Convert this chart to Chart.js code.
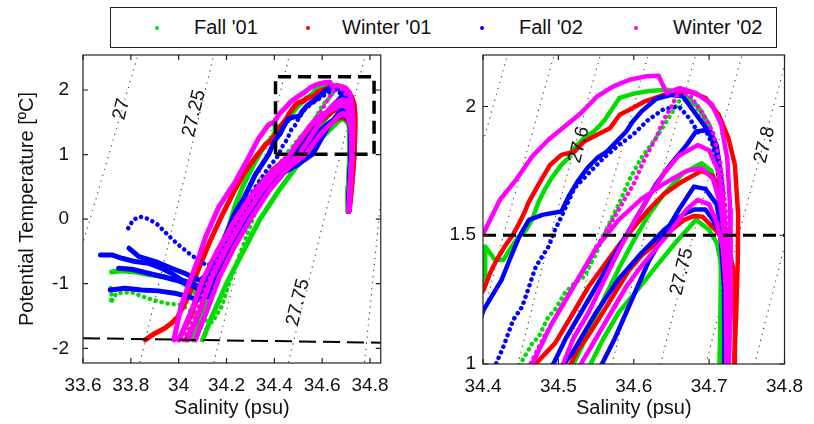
<!DOCTYPE html>
<html><head><meta charset="utf-8">
<script src="https://cdn.jsdelivr.net/npm/chart.js@4.4.1/dist/chart.umd.min.js"></script>
<style>
html,body{margin:0;padding:0;background:#fff;}
body{width:814px;height:424px;position:relative;overflow:hidden;font-family:"Liberation Sans",Arial,sans-serif;}
#cL{position:absolute;left:0;top:0;}
#cR{position:absolute;left:400px;top:0;}
#legend{position:absolute;left:110px;top:7px;width:665px;height:39px;border:1.5px solid #222;background:#fff;z-index:5;}
.it{position:absolute;top:0;height:39px;line-height:39px;font-size:20px;color:#111;white-space:nowrap;}
.dot{position:absolute;top:18px;width:4px;height:4px;border-radius:2px;}
</style></head><body>
<div id="legend"></div>
<canvas id="cL" width="400" height="424"></canvas>
<canvas id="cR" width="414" height="424"></canvas>
<script>
// ---------- series names ----------
const seasons = ["Fall '01", "Winter '01", "Fall '02", "Winter '02"];

// ---------- Fall '01 profiles [salinity, potential temperature] ----------
const fall01_a = [[33.72,-0.82],[33.76,-0.80],[33.82,-0.82],[33.88,-0.86],[33.94,-0.89],[34.0,-0.95],[34.04,-1.05],[34.07,-1.15],[34.1,-1.1],[34.13,-0.9],[34.17,-0.55],[34.2,-0.25],[34.237,0.22],[34.265,0.478],[34.292,0.684],[34.32,0.89],[34.36,1.15],[34.389,1.25],[34.403,1.35],[34.403,1.456],[34.416,1.404],[34.427,1.404],[34.435,1.443],[34.444,1.482],[34.457,1.521],[34.465,1.56],[34.474,1.631],[34.483,1.683],[34.491,1.722],[34.504,1.773],[34.513,1.799],[34.521,1.838],[34.534,1.877],[34.547,1.903],[34.56,1.942],[34.569,1.981],[34.581,2.033],[34.60,2.05],[34.62,2.06],[34.645,2.065],[34.665,2.05],[34.685,2.0],[34.70,1.93],[34.71,1.82],[34.715,1.68],[34.716,1.45],[34.715,1.2],[34.714,1.0],[34.712,0.5],[34.708,0.12]];
const fall01_b = [[33.715,-1.07],[33.72,-1.2],[33.715,-1.3],[33.74,-1.15],[33.80,-1.13],[33.873,-1.23],[33.942,-1.30],[34.011,-1.33],[34.06,-1.45],[34.1,-1.55],[34.14,-1.6],[34.18,-1.35],[34.22,-0.9],[34.27,-0.4],[34.32,0.1],[34.37,0.5],[34.42,0.85],[34.4653,1.08],[34.474,1.106],[34.4869,1.184],[34.4955,1.21],[34.5084,1.275],[34.5213,1.314],[34.5342,1.339],[34.55,1.43],[34.565,1.53],[34.58,1.62],[34.595,1.72],[34.61,1.80],[34.63,1.88],[34.645,1.95],[34.66,2.02],[34.675,2.03],[34.69,1.97],[34.70,1.9],[34.71,1.8],[34.715,1.6],[34.716,1.3],[34.714,1.0],[34.71,0.5],[34.708,0.12]];
const fall01_c = [[34.10,-1.87],[34.14,-1.5],[34.2,-1.0],[34.27,-0.5],[34.34,0.0],[34.42,0.45],[34.49,0.8],[34.5427,1.0],[34.56,1.1],[34.58,1.2],[34.605,1.288],[34.63,1.38],[34.655,1.47],[34.6826,1.56],[34.6997,1.521],[34.7105,1.469],[34.7148,1.404],[34.7169,1.339],[34.7169,1.21],[34.7148,0.996],[34.712,0.5],[34.708,0.12]];
const fall01_d = [[34.06,-1.87],[34.11,-1.4],[34.16,-0.9],[34.22,-0.45],[34.29,0.0],[34.37,0.45],[34.45,0.8],[34.52,1.0],[34.54,1.12],[34.56,1.25],[34.58,1.37],[34.60,1.48],[34.62,1.58],[34.64,1.66],[34.665,1.74],[34.69,1.78],[34.703,1.75],[34.712,1.66],[34.716,1.5],[34.716,1.2],[34.714,1.0],[34.71,0.5],[34.708,0.12]];

// ---------- Winter '01 profiles ----------
const winter01_a = [[33.86,-1.87],[33.90,-1.77],[33.942,-1.689],[33.97,-1.612],[33.997,-1.51],[34.011,-1.406],[34.04,-1.2],[34.08,-0.8],[34.13,-0.35],[34.18,0.05],[34.23,0.42],[34.28,0.75],[34.33,1.0],[34.362,1.149],[34.38,1.2],[34.4008,1.288],[34.4094,1.353],[34.4181,1.404],[34.4288,1.456],[34.4395,1.501],[34.4481,1.547],[34.4546,1.586],[34.461,1.631],[34.4761,1.709],[34.489,1.773],[34.504,1.812],[34.5213,1.825],[34.5342,1.864],[34.5514,1.890],[34.5685,1.916],[34.5814,1.968],[34.5987,1.994],[34.615,2.02],[34.64,2.045],[34.674,2.058],[34.6955,2.033],[34.7126,1.968],[34.7256,1.877],[34.7342,1.773],[34.7385,1.579],[34.738,1.4],[34.736,1.2],[34.733,1.0],[34.725,0.6],[34.718,0.3],[34.712,0.12]];
const winter01_b = [[34.03,-1.87],[34.07,-1.6],[34.12,-1.1],[34.18,-0.6],[34.25,-0.15],[34.32,0.25],[34.40,0.6],[34.46,0.82],[34.5169,1.003],[34.5256,1.054],[34.5385,1.106],[34.5471,1.145],[34.5556,1.184],[34.5665,1.236],[34.58,1.3],[34.594,1.365],[34.61,1.42],[34.63,1.47],[34.65,1.52],[34.667,1.56],[34.68,1.575],[34.6911,1.572],[34.7084,1.521],[34.7256,1.456],[34.7342,1.339],[34.7342,1.0],[34.726,0.6],[34.718,0.3],[34.712,0.12]];
const winter01_c = [[34.00,-1.87],[34.05,-1.5],[34.10,-1.0],[34.17,-0.5],[34.24,0.0],[34.31,0.4],[34.39,0.75],[34.46,0.97],[34.4955,1.08],[34.52,1.2],[34.54,1.3],[34.56,1.38],[34.58,1.46],[34.60,1.53],[34.62,1.6],[34.64,1.66],[34.665,1.71],[34.69,1.75],[34.705,1.73],[34.715,1.65],[34.722,1.5],[34.725,1.3],[34.726,1.0],[34.72,0.6],[34.714,0.3],[34.712,0.12]];

// ---------- Fall '02 profiles ----------
const fall02_a = [[33.673,-0.554],[33.721,-0.554],[33.763,-0.606],[33.818,-0.657],[33.873,-0.683],[33.928,-0.761],[33.97,-0.838],[34.011,-0.941],[34.052,-0.993],[34.087,-1.045],[34.11,-1.0],[34.13,-0.85],[34.16,-0.6],[34.19,-0.3],[34.2374,0.116],[34.2648,0.271],[34.2925,0.478],[34.32,0.684],[34.3475,0.839],[34.375,0.994],[34.4008,1.21],[34.4245,1.326],[34.4352,1.404],[34.4481,1.495],[34.461,1.56],[34.48,1.58],[34.504,1.592],[34.5148,1.657],[34.5256,1.709],[34.5385,1.761],[34.5514,1.80],[34.5643,1.825],[34.5772,1.864],[34.59,1.903],[34.5987,1.942],[34.61,1.98],[34.63,2.03],[34.65,2.045],[34.665,2.04],[34.68,1.98],[34.69,1.94],[34.70,1.9],[34.71,1.83],[34.717,1.7],[34.72,1.5],[34.721,1.2],[34.72,1.0],[34.716,0.6],[34.712,0.3],[34.71,0.12]];
const fall02_b = [[33.789,-0.141],[33.81,-0.012],[33.837,0.039],[33.865,0.013],[33.906,-0.064],[33.934,-0.167],[33.97,-0.3],[34.0,-0.4],[34.05,-0.55],[34.09,-0.65],[34.12,-0.72],[34.15,-0.65],[34.19,-0.4],[34.23,-0.1],[34.28,0.25],[34.33,0.55],[34.38,0.82],[34.41,0.95],[34.427,1.067],[34.44,1.171],[34.452,1.223],[34.461,1.30],[34.47,1.378],[34.487,1.456],[34.4955,1.521],[34.504,1.572],[34.5213,1.683],[34.54,1.74],[34.56,1.8],[34.58,1.85],[34.5987,1.89],[34.62,1.95],[34.64,1.99],[34.66,2.0],[34.675,1.95],[34.685,1.9],[34.695,1.91],[34.705,1.85],[34.714,1.7],[34.718,1.5],[34.72,1.2],[34.72,1.0]];
const fall02_c = [[33.749,-0.761],[33.804,-0.776],[33.873,-0.838],[33.942,-0.90],[34.011,-0.967],[34.066,-1.045],[34.10,-1.15],[34.13,-1.0],[34.18,-0.6],[34.24,-0.15],[34.31,0.3],[34.38,0.65],[34.44,0.9],[34.4933,1.0],[34.51,1.1],[34.53,1.2],[34.55,1.3],[34.57,1.4],[34.59,1.5],[34.61,1.6],[34.63,1.7],[34.65,1.78],[34.67,1.85],[34.6826,1.903],[34.70,1.91],[34.71,1.85],[34.717,1.7],[34.72,1.5],[34.721,1.2],[34.72,1.0],[34.716,0.6],[34.71,0.12]];
const fall02_d = [[33.714,-1.096],[33.776,-1.070],[33.845,-1.096],[33.914,-1.111],[33.983,-1.147],[34.038,-1.198],[34.08,-1.25],[34.12,-1.2],[34.15,-1.0],[34.22,-0.5],[34.29,0.0],[34.36,0.4],[34.43,0.7],[34.50,0.85],[34.5578,1.0],[34.575,1.1],[34.59,1.2],[34.605,1.3],[34.62,1.4],[34.64,1.5],[34.66,1.6],[34.68,1.689],[34.695,1.68],[34.71,1.62],[34.717,1.5],[34.72,1.3],[34.72,1.0],[34.714,0.5],[34.71,0.12]];
const fall02_e = [[33.792,-0.451],[33.834,-0.58],[33.903,-0.657],[33.97,-0.761],[34.025,-0.838],[34.06,-0.9],[34.09,-0.95],[34.12,-0.85],[34.17,-0.5],[34.23,-0.1],[34.30,0.3],[34.37,0.6],[34.44,0.85],[34.50,0.97],[34.52,1.05],[34.55,1.2],[34.58,1.33],[34.61,1.43],[34.64,1.52],[34.665,1.58],[34.68,1.6],[34.695,1.6],[34.705,1.56],[34.715,1.5],[34.72,1.3],[34.72,1.0],[34.714,0.5],[34.71,0.12]];

// ---------- Winter '02 profiles ----------
const winter02_a = [[33.98,-1.87],[34.01,-1.35],[34.044,-0.99],[34.085,-0.58],[34.113,-0.27],[34.168,0.19],[34.237,0.58],[34.29,0.94],[34.334,1.25],[34.375,1.458],[34.4008,1.508],[34.4223,1.637],[34.4438,1.715],[34.4653,1.806],[34.4868,1.871],[34.5083,1.922],[34.5298,1.974],[34.5514,2.039],[34.5729,2.078],[34.5944,2.104],[34.6159,2.117],[34.6331,2.119],[34.6374,2.091],[34.6438,2.052],[34.648,2.058],[34.661,2.071],[34.6826,2.052],[34.704,2.007],[34.716,1.93],[34.724,1.8],[34.728,1.6],[34.729,1.4],[34.728,1.2],[34.726,1.0],[34.72,0.6],[34.714,0.3],[34.711,0.12]];
const winter02_b = [[34.02,-1.87],[34.07,-1.5],[34.12,-1.0],[34.18,-0.5],[34.25,0.0],[34.33,0.45],[34.41,0.8],[34.463,1.0],[34.48,1.1],[34.5,1.2],[34.52,1.3],[34.54,1.4],[34.56,1.5],[34.58,1.6],[34.6,1.7],[34.615,1.8],[34.63,1.88],[34.64,1.95],[34.65,2.0],[34.66,2.06],[34.675,2.04],[34.69,1.98],[34.705,1.9],[34.715,1.78],[34.722,1.6],[34.725,1.3],[34.725,1.0],[34.72,0.6],[34.713,0.12]];
const winter02_c = [[34.04,-1.87],[34.09,-1.4],[34.14,-0.9],[34.2,-0.45],[34.27,0.0],[34.35,0.45],[34.43,0.8],[34.5062,1.0],[34.52,1.1],[34.54,1.2],[34.56,1.32],[34.58,1.44],[34.60,1.55],[34.62,1.65],[34.64,1.74],[34.66,1.81],[34.685,1.85],[34.70,1.83],[34.712,1.75],[34.72,1.6],[34.724,1.4],[34.725,1.0],[34.72,0.6],[34.712,0.12]];
const winter02_d = [[34.07,-1.87],[34.12,-1.4],[34.17,-0.9],[34.23,-0.45],[34.30,0.0],[34.38,0.45],[34.46,0.8],[34.53,1.0],[34.55,1.1],[34.57,1.2],[34.59,1.3],[34.61,1.38],[34.63,1.45],[34.65,1.52],[34.67,1.6],[34.6847,1.637],[34.70,1.62],[34.71,1.55],[34.718,1.45],[34.722,1.3],[34.723,1.0],[34.716,0.5],[34.71,0.12]];
const winter02_e = [[34.0,-1.87],[34.05,-1.45],[34.10,-0.95],[34.16,-0.5],[34.23,-0.05],[34.30,0.35],[34.38,0.7],[34.4653,1.0],[34.49,1.15],[34.52,1.3],[34.55,1.45],[34.58,1.56],[34.61,1.64],[34.64,1.7],[34.67,1.75],[34.69,1.76],[34.705,1.72],[34.715,1.62],[34.722,1.45],[34.724,1.2],[34.724,1.0],[34.718,0.6],[34.712,0.12]];

// ---------- isopycnals (sigma-theta) ----------
const isoLeft_27   = [[33.59,-0.5],[33.834,2.6]];
const isoLeft_2725 = [[33.833,-2.3],[34.150,2.6]];
const isoLeft_275  = [[34.142,-2.3],[34.467,2.6]];
const isoLeft_2775 = [[34.453,-2.3],[34.784,2.6]];
const isoLeft_28   = [[34.775,-2.3],[34.838,0.03],[34.87,1.2]];
const isoRight_275  = [[34.3217,1.0],[34.3648,1.5],[34.4326,2.2]];
const isoRight_2755 = [[34.3839,1.0],[34.427,1.5],[34.4943,2.2]];
const isoRight_276  = [[34.4463,1.0],[34.4894,1.5],[34.5557,2.2]];
const isoRight_2765 = [[34.5088,1.0],[34.5519,1.5],[34.619,2.2]];
const isoRight_277  = [[34.5711,1.0],[34.6142,1.5],[34.6822,2.2]];
const isoRight_2775 = [[34.6356,1.0],[34.6787,1.5],[34.7436,2.2]];
const isoRight_278  = [[34.6959,1.0],[34.739,1.5],[34.804,2.2]];
const isoRight_2785 = [[34.7604,1.0],[34.8035,1.5],[34.8675,2.2]];
const isoLabelsLeft  = ["27", "27.25", "27.75"];
const isoLabelAtLeft = [[33.7614,1.701],[34.0648,1.639],[34.4994,-1.288]];
const isoLabelsRight  = ["27.6", "27.75", "27.8"];
const isoLabelAtRight = [[34.5277,1.851],[34.664,1.359],[34.7737,1.851]];

// ---------- reference lines ----------
const freezingLine = [[33.6,-1.845],[34.845,-1.913]];
const zoomBox = [[34.405,1.005],[34.405,2.205],[34.817,2.205],[34.817,1.005],[34.405,1.005]];
const line15 = [[34.4,1.5],[34.8,1.5]];

// ---------- axes ----------
const xTicksLeft = [33.6,33.8,34.0,34.2,34.4,34.6,34.8];
const yTicksLeft = [-2,-1,0,1,2];
const xTicksRight = [34.4,34.5,34.6,34.7,34.8];
const yTicksRight = [1,1.5,2];
const xTitle = 'Salinity (psu)';
const yTitle = 'Potential Temperature [ºC]';

// ---------- styling ----------
const FONT = '"Liberation Sans", Arial, sans-serif';
const colors = ['#00dd00','#ff0000','#0000ff','#ff00ff'];

const legend = document.getElementById('legend');
const dotX = [44,195,369,523], txtX = [83,231,408,562];
seasons.forEach((s,i)=>{
  const d=document.createElement('div');d.className='dot';d.style.left=dotX[i]+'px';d.style.background=colors[i];legend.appendChild(d);
  const t=document.createElement('div');t.className='it';t.style.left=txtX[i]+'px';t.textContent=s;legend.appendChild(t);
});

const pts = a => a.map(p=>({x:p[0],y:p[1]}));
function prof(arr, ci, w, dotted){
  return {data:pts(arr), borderColor:colors[ci], backgroundColor:colors[ci], borderWidth: dotted?4.5:w,
    borderDash: dotted?[0.1,6]:[], borderCapStyle:'round', borderJoinStyle:'round', showLine:true, pointRadius:0, tension:0};
}
function iso(arr){ return {data:pts(arr), borderColor:'#444', borderWidth:1.3, borderDash:[0.1,6], borderCapStyle:'round', showLine:true, pointRadius:0}; }
function dashed(arr,w,dash){ return {data:pts(arr), borderColor:'#000', borderWidth:w, borderDash:dash, borderCapStyle:'butt', showLine:true, pointRadius:0}; }

function profiles(w){
  return [
    prof(winter02_a,3,w), prof(winter02_b,3,w,true), prof(winter02_c,3,w), prof(winter02_d,3,w), prof(winter02_e,3,w),
    prof(fall02_a,2,w), prof(fall02_b,2,w,true), prof(fall02_c,2,w), prof(fall02_d,2,w), prof(fall02_e,2,w),
    prof(winter01_a,1,w), prof(winter01_b,1,w), prof(winter01_c,1,w),
    prof(fall01_a,0,w), prof(fall01_b,0,w,true), prof(fall01_c,0,w), prof(fall01_d,0,w)
  ];
}

const fmt = v => String(Math.round(v*100)/100);

const framePlugin = {
  id:'frame',
  afterDatasetsDraw(chart, args, opts){
    const {ctx, chartArea:a, scales:{x,y}} = chart;
    ctx.save();
    ctx.font = '19px '+FONT; ctx.fillStyle='#111'; ctx.textAlign='center'; ctx.textBaseline='middle';
    opts.labels.forEach((txt,i)=>{
      const p = opts.at[i];
      ctx.save(); ctx.translate(x.getPixelForValue(p[0]), y.getPixelForValue(p[1]));
      ctx.rotate(-76*Math.PI/180); ctx.fillText(txt,0,0); ctx.restore();
    });
    ctx.strokeStyle='#222'; ctx.lineWidth=1.2;
    ctx.strokeRect(a.left, a.top, a.right-a.left, a.bottom-a.top);
    const L=5; ctx.beginPath();
    x.ticks.forEach(t=>{const px=x.getPixelForValue(t.value); ctx.moveTo(px,a.bottom); ctx.lineTo(px,a.bottom-L); ctx.moveTo(px,a.top); ctx.lineTo(px,a.top+L);});
    y.ticks.forEach(t=>{const py=y.getPixelForValue(t.value); ctx.moveTo(a.left,py); ctx.lineTo(a.left+L,py); ctx.moveTo(a.right,py); ctx.lineTo(a.right-L,py);});
    ctx.stroke(); ctx.restore();
  }
};

function makeChart(id, o){
  new Chart(document.getElementById(id), {
    type:'scatter',
    data:{datasets:o.datasets},
    options:{
      responsive:false, animation:false, events:[],
      layout:{padding:{left:0,right:o.padRight,top:55,bottom:0}},
      plugins:{legend:{display:false}, tooltip:{enabled:false}, frame:{labels:o.labels, at:o.at}},
      scales:{
        x:{type:'linear', min:o.xmin, max:o.xmax,
           afterBuildTicks:s=>{s.ticks=o.xt.map(v=>({value:v}));}, afterFit:s=>{s.height=o.xh;},
           grid:{display:false,drawTicks:false}, border:{display:false},
           ticks:{font:{size:19,family:FONT}, color:'#111', padding:11, maxRotation:0, autoSkip:false, callback:fmt},
           title:{display:true, text:xTitle, font:{size:20,family:FONT}, color:'#111', padding:{top:0,bottom:4}}},
        y:{type:'linear', min:o.ymin, max:o.ymax,
           afterBuildTicks:s=>{s.ticks=o.yt.map(v=>({value:v}));}, afterFit:s=>{s.width=83;},
           grid:{display:false,drawTicks:false}, border:{display:false},
           ticks:{font:{size:19,family:FONT}, color:'#111', padding:o.ypad, autoSkip:false, callback:fmt},
           title:{display:o.ytitle, text:yTitle, font:{size:20,family:FONT}, color:'#111', padding:{top:15,bottom:0}}}
      }
    },
    plugins:[framePlugin]
  });
}

makeChart('cL', {
  datasets:[dashed(freezingLine,2,[17,7]), dashed(zoomBox,3.5,[13,7])].concat(profiles(5),
    [iso(isoLeft_27),iso(isoLeft_2725),iso(isoLeft_275),iso(isoLeft_2775),iso(isoLeft_28)]),
  xmin:33.6, xmax:34.845, ymin:-2.228, ymax:2.542, xt:xTicksLeft, yt:yTicksLeft,
  padRight:14, xh:61, ypad:14, ytitle:true, labels:isoLabelsLeft, at:isoLabelAtLeft
});
makeChart('cR', {
  datasets:[dashed(line15,3,[13,7])].concat(profiles(4.5),
    [iso(isoRight_275),iso(isoRight_2755),iso(isoRight_276),iso(isoRight_2765),iso(isoRight_277),iso(isoRight_2775),iso(isoRight_278),iso(isoRight_2785)]),
  xmin:34.4, xmax:34.8, ymin:1, ymax:2.2, xt:xTicksRight, yt:yTicksRight,
  padRight:21, xh:60, ypad:7, ytitle:false, labels:isoLabelsRight, at:isoLabelAtRight
});
</script></body></html>
